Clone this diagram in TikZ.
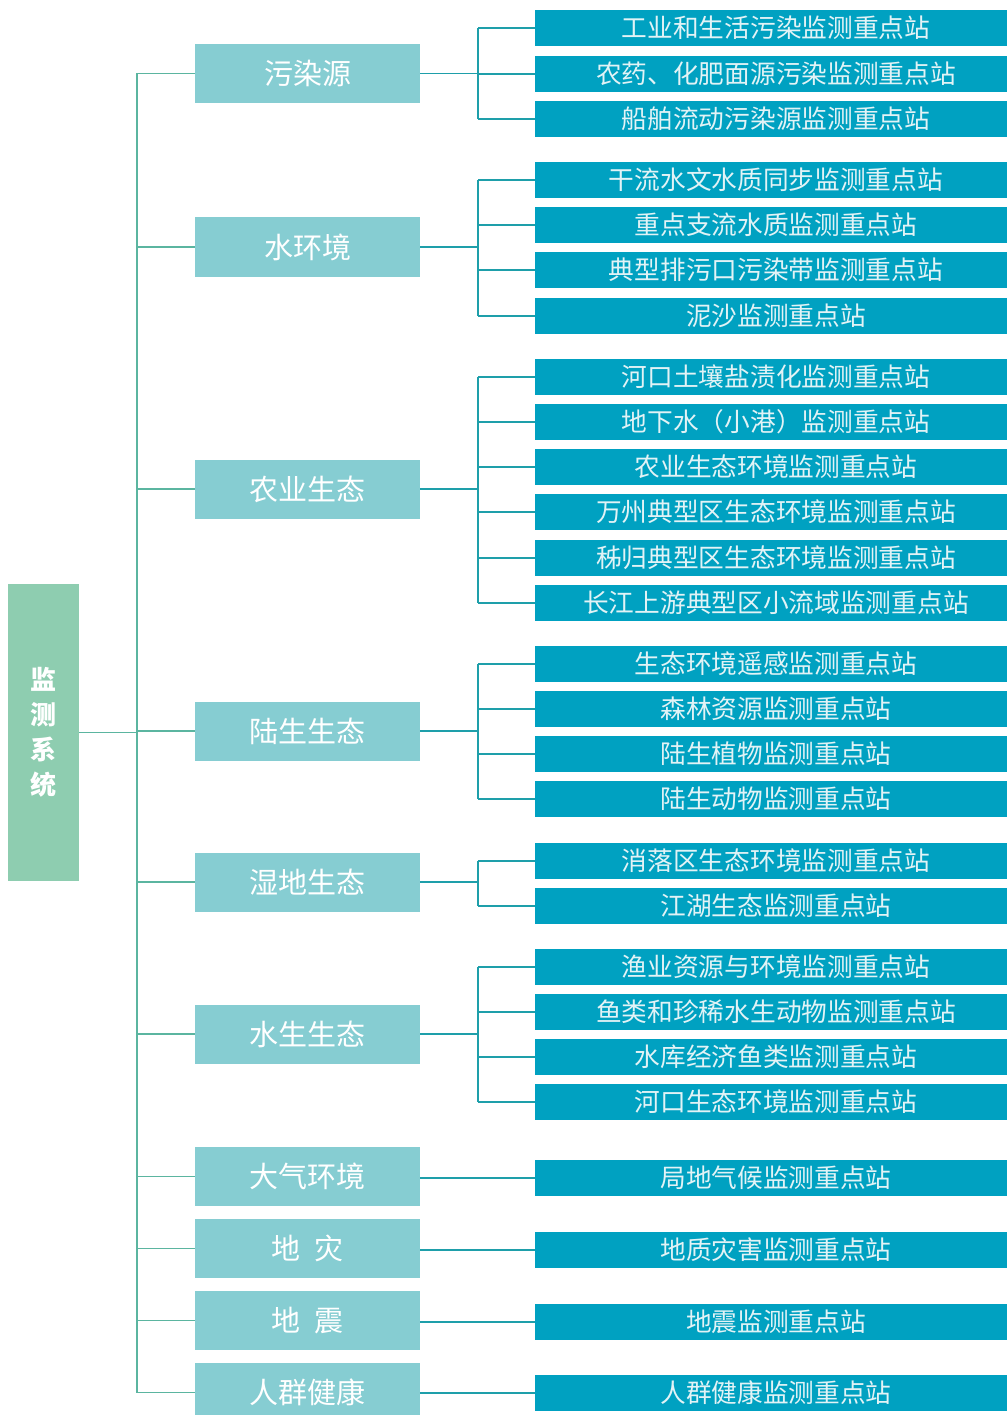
\documentclass[tikz,border=0pt]{standalone}
\usepackage{fontspec}
\setmainfont{Noto Sans CJK SC}
\definecolor{rootc}{HTML}{8ECDB0}
\definecolor{catc}{HTML}{86CDD2}
\definecolor{leafc}{HTML}{00A1C1}
\definecolor{leaftext}{HTML}{E2F3F6}
\definecolor{trunkc}{HTML}{5BB5A0}
\definecolor{branchc}{HTML}{1E9FAA}
\begin{document}
\begin{tikzpicture}[x=1pt,y=-1pt,
  rootbox/.style={fill=rootc, text=white, minimum width=71pt, minimum height=297pt, inner sep=0pt, font=\bfseries\fontsize{26}{35}\selectfont, align=center},
  catbox/.style={fill=catc, text=white, minimum width=225pt, minimum height=59pt, inner sep=0pt, font=\fontsize{29}{32}\selectfont},
  leafbox/.style={fill=leafc, text=leaftext, minimum width=472pt, minimum height=36pt, inner sep=0pt, font=\fontsize{25.7}{28}\selectfont},
  trunk/.style={draw=trunkc, line width=1.5pt},
  branch/.style={draw=branchc, line width=1.5pt}]
\useasboundingbox (0,0) rectangle (1007,1415);
\node[rootbox] (r) at (43.5,732.5) {监\\测\\系\\统};
\foreach \i/\y/\t in {1/73.5/污染源, 2/247/水环境, 3/489/农业生态, 4/731/陆生生态, 5/882/湿地生态, 6/1034/水生生态, 7/1176.5/大气环境, 8/1248.5/地\hspace{0.5em}灾, 9/1320.5/地\hspace{0.5em}震, 10/1392.5/人群健康}
  \node[catbox] (c\i) at (307.5,\y) {\t};
\foreach \i/\y/\t in {1/28/工业和生活污染监测重点站, 2/74/农药、化肥面源污染监测重点站, 3/119/船舶流动污染源监测重点站,
  4/180/干流水文水质同步监测重点站, 5/225/重点支流水质监测重点站, 6/270/典型排污口污染带监测重点站, 7/316/泥沙监测重点站,
  8/377/河口土壤盐渍化监测重点站, 9/422/地下水（小港）监测重点站, 10/467/农业生态环境监测重点站, 11/512/万州典型区生态环境监测重点站, 12/558/秭归典型区生态环境监测重点站, 13/603/长江上游典型区小流域监测重点站,
  14/664/生态环境遥感监测重点站, 15/709/森林资源监测重点站, 16/754/陆生植物监测重点站, 17/799/陆生动物监测重点站,
  18/861/消落区生态环境监测重点站, 19/906/江湖生态监测重点站,
  20/967/渔业资源与环境监测重点站, 21/1012/鱼类和珍稀水生动物监测重点站, 22/1057/水库经济鱼类监测重点站, 23/1102/河口生态环境监测重点站,
  24/1178/局地气候监测重点站, 25/1250/地质灾害监测重点站, 26/1322/地震监测重点站, 27/1393/人群健康监测重点站}
  \node[leafbox] (l\i) at (771,\y) {\hspace*{10pt}\t};
% trunk
\coordinate (tj) at (137,732.5);
\draw[trunk] (r.east) -- (tj);
\draw[trunk] (c1.west -| tj) -- (c10.west -| tj);
\foreach \i in {1,...,10} \draw[trunk] (c\i.west -| tj) -- (c\i.west);
% brackets
\coordinate (bx) at (478,0);
\foreach \c/\a/\b in {1/1/3, 2/4/7, 3/8/13, 4/14/17, 5/18/19, 6/20/23} {
  \draw[branch] (c\c.east) -- (c\c.east -| bx);
  \draw[branch] (l\a.west -| bx) -- (l\b.west -| bx);
}
\foreach \l in {1,...,23} \draw[branch] (l\l.west -| bx) -- (l\l.west);
\foreach \c/\l in {7/24, 8/25, 9/26, 10/27} \draw[branch] (c\c.east |- l\l.west) -- (l\l.west);
\end{tikzpicture}
\end{document}
